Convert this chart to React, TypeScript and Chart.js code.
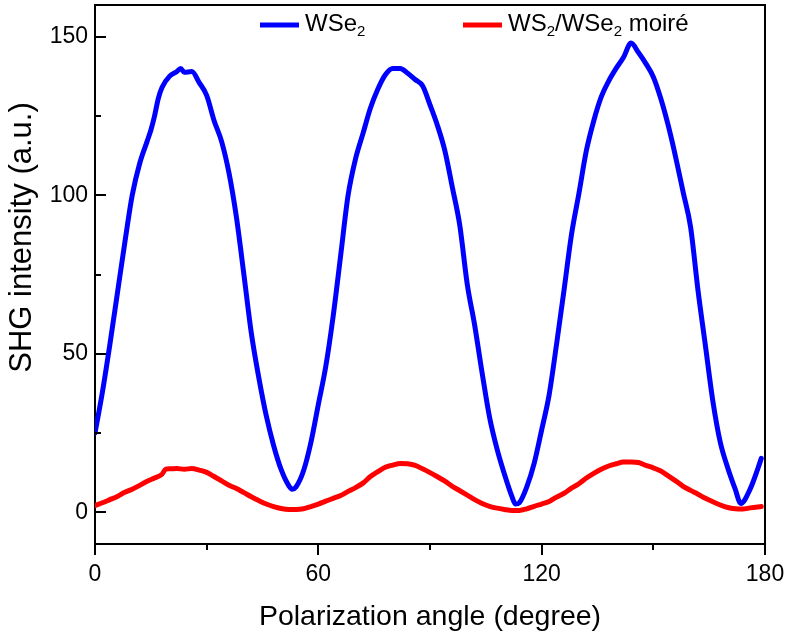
import React, { useEffect, useRef } from "react";
import { Chart, registerables } from "chart.js";

Chart.register(...registerables);

// ---- data ----
const wse2Angles = [
  0, 2, 4, 6, 8, 10, 12, 14, 15, 16, 17, 18, 20, 22, 23, 24, 26, 28, 30, 32, 34, 36, 38, 40,
  42, 44, 46, 48, 50, 52, 53, 54, 56, 58, 60, 62, 64, 66, 68, 70, 72, 74, 76, 78, 80, 82, 84,
  86, 88, 90, 92, 94, 96, 98, 100, 102, 104, 106, 108, 110, 112, 113, 114, 116, 118, 120, 122,
  124, 126, 128, 130, 132, 134, 136, 138, 140, 142, 144, 146, 148, 150, 152, 154, 156, 158, 160,
  162, 164, 166, 168, 170, 172, 173.5, 176, 178, 179,
];
const wse2Values = [
  25, 38, 53, 69, 85, 100, 110, 117, 120.5, 125, 130.5, 134, 137.5, 139, 140, 138.8, 139, 135.5,
  131.5, 123.5, 117, 107, 93, 75, 56.5, 42.5, 30.5, 21, 13.5, 8.5, 7.3, 8, 13, 22, 34, 46, 62, 81,
  100, 111.5, 119.5, 127.5, 133.5, 138, 140, 140, 138.5, 136.5, 134.5, 128.5, 122, 114, 102.5, 90.5,
  72, 59, 44, 30, 20, 12, 5, 2.6, 3, 8, 15.5, 26, 37, 53, 70, 87.5, 100.5, 114, 123.5, 131, 136,
  140, 143.5, 148, 145, 141.5, 137.3, 130.5, 122, 112, 101, 90, 70, 52.5, 35, 22, 14, 7.3, 2.8, 7.3,
  13.5, 17,
];

const moireAngles = [
  0, 2, 4, 6, 8, 10, 12, 14, 16, 18, 19, 20, 22, 24, 26, 28, 30, 32, 34, 36, 38, 40, 42, 44, 46,
  48, 50, 52, 54, 56, 58, 60, 62, 64, 66, 68, 70, 72, 74, 76, 78, 80, 82, 84, 86, 88, 90, 92, 94,
  96, 98, 100, 102, 104, 106, 108, 110, 112, 114, 116, 118, 120, 122, 124, 126, 128, 130, 132, 134,
  136, 138, 140, 142, 144, 146, 148, 150, 152, 154, 156, 158, 160, 162, 164, 166, 168, 170, 172,
  174, 176, 178, 179,
];
const moireValues = [
  2.1, 3, 4, 5, 6.3, 7.3, 8.5, 9.8, 10.8, 12, 13.6, 13.7, 13.8, 13.6, 13.8, 13.3, 12.6, 11.3, 9.9,
  8.5, 7.5, 6.2, 4.9, 3.7, 2.6, 1.8, 1.2, 0.9, 0.9, 1.1, 1.8, 2.6, 3.5, 4.4, 5.3, 6.6, 7.8, 9.2,
  11.3, 12.8, 14.2, 14.9, 15.4, 15.3, 14.8, 13.7, 12.5, 11.2, 9.8, 8.2, 6.8, 5.4, 4, 2.8, 1.9, 1.3,
  0.9, 0.6, 0.6, 1.1, 1.9, 2.6, 3.4, 4.8, 6, 7.6, 9, 10.8, 12.3, 13.6, 14.6, 15.3, 15.9, 15.9, 15.7,
  14.8, 14, 13, 11.5, 9.9, 8.2, 6.9, 5.7, 4.4, 3.3, 2.3, 1.5, 1.1, 1.0, 1.4, 1.7, 1.8,
];

const seriesLabels = ["WSe₂", "WS₂/WSe₂ moiré"];
const seriesColors = ["#0000ff", "#ff0000"];

const xTickValues = [0, 60, 120, 180];
const xMinorTickValues = [30, 90, 150];
const yTickValues = [0, 50, 100, 150];
const yMinorTickValues = [25, 75, 125];

const xTitle = "Polarization angle (degree)";
const yTitle = "SHG intensity (a.u.)";

const FONT = '"Liberation Sans", Arial, sans-serif';

function drawRich(ctx: CanvasRenderingContext2D, text: string, x: number, y: number, size: number) {
  const subMap: Record<string, string> = { "₀": "0", "₁": "1", "₂": "2", "₃": "3" };
  let cx = x;
  for (const ch of Array.from(text)) {
    if (subMap[ch]) {
      ctx.font = `${Math.round(size * 0.64)}px ${FONT}`;
      ctx.fillText(subMap[ch], cx, y + size * 0.22);
      cx += ctx.measureText(subMap[ch]).width;
    } else {
      ctx.font = `${size}px ${FONT}`;
      ctx.fillText(ch, cx, y);
      cx += ctx.measureText(ch).width;
    }
  }
}

const framePlugin = {
  id: "frameTicksLegend",
  afterDraw(chart: any) {
    const { ctx, chartArea: a, scales } = chart;
    const xs = scales.x;
    const ys = scales.y;
    ctx.save();
    ctx.strokeStyle = "#000";
    ctx.lineWidth = 2;
    ctx.beginPath();
    ctx.moveTo(a.left - 1, a.top);
    ctx.lineTo(a.right, a.top);
    ctx.lineTo(a.right, a.bottom + 1);
    ctx.stroke();

    ctx.beginPath();
    for (const v of yTickValues) {
      const py = Math.round(ys.getPixelForValue(v));
      ctx.moveTo(a.left, py);
      ctx.lineTo(a.left + 11, py);
    }
    for (const v of yMinorTickValues) {
      const py = Math.round(ys.getPixelForValue(v));
      ctx.moveTo(a.left, py);
      ctx.lineTo(a.left + 6, py);
    }
    for (const v of xTickValues) {
      const px = Math.round(xs.getPixelForValue(v));
      ctx.moveTo(px, a.bottom);
      ctx.lineTo(px, a.bottom + 11);
    }
    for (const v of xMinorTickValues) {
      const px = Math.round(xs.getPixelForValue(v));
      ctx.moveTo(px, a.bottom);
      ctx.lineTo(px, a.bottom + 6);
    }
    ctx.stroke();

    // y axis title
    ctx.save();
    ctx.fillStyle = "#000";
    ctx.font = `31px ${FONT}`;
    ctx.textAlign = "center";
    ctx.textBaseline = "middle";
    ctx.translate(22, (a.top + a.bottom) / 2 - 37);
    ctx.rotate(-Math.PI / 2);
    ctx.fillText(yTitle, 0, 0);
    ctx.restore();

    // legend
    const items = [
      { lx: a.left + 165, tx: a.left + 210 },
      { lx: a.left + 368, tx: a.left + 413 },
    ];
    const ly = a.top + 20;
    chart.data.datasets.forEach((ds: any, i: number) => {
      const it = items[i];
      ctx.strokeStyle = ds.borderColor;
      ctx.lineWidth = 5;
      ctx.lineCap = "butt";
      ctx.beginPath();
      ctx.moveTo(it.lx, ly);
      ctx.lineTo(it.lx + 39, ly);
      ctx.stroke();
      ctx.fillStyle = "#000";
      ctx.textBaseline = "alphabetic";
      ctx.textAlign = "left";
      drawRich(ctx, ds.label, it.tx, ly + 6, 24);
    });
    ctx.restore();
  },
};

export default function App() {
  const ref = useRef<HTMLCanvasElement | null>(null);

  useEffect(() => {
    document.body.style.margin = "0";
    const canvas = ref.current;
    if (!canvas) return;
    const lineStyle = {
      borderWidth: 5,
      pointRadius: 0,
      cubicInterpolationMode: "monotone",
      borderJoinStyle: "round",
      borderCapStyle: "round",
    };
    const chart = new Chart(canvas, {
      type: "line",
      data: {
        datasets: [
          {
            label: seriesLabels[0],
            data: wse2Angles.map((a, i) => ({ x: a, y: wse2Values[i] })),
            borderColor: seriesColors[0],
            backgroundColor: seriesColors[0],
            ...lineStyle,
          },
          {
            label: seriesLabels[1],
            data: moireAngles.map((a, i) => ({ x: a, y: moireValues[i] })),
            borderColor: seriesColors[1],
            backgroundColor: seriesColors[1],
            ...lineStyle,
          },
        ],
      },
      options: {
        animation: false,
        responsive: false,
        devicePixelRatio: 1,
        layout: { padding: { top: 5, right: 25, left: 0, bottom: 0 } },
        plugins: {
          legend: { display: false },
          tooltip: { enabled: false },
        },
        scales: {
          x: {
            type: "linear",
            min: 0,
            max: 180,
            afterBuildTicks: (s: any) => {
              s.ticks = xTickValues.map((v) => ({ value: v }));
            },
            afterFit: (s: any) => {
              s.height = 92;
              s.paddingLeft = 0;
              s.paddingRight = 0;
            },
            grid: { display: false, drawTicks: false },
            border: { display: true, color: "#000", width: 2 },
            ticks: {
              color: "#000",
              font: { family: FONT, size: 23 },
              padding: 17,
              maxRotation: 0,
              autoSkip: false,
            },
            title: {
              display: true,
              text: xTitle,
              color: "#000",
              font: { family: FONT, size: 28.5 },
              padding: { top: 0, bottom: 2 },
            },
          },
          y: {
            type: "linear",
            min: -10,
            max: 160,
            afterBuildTicks: (s: any) => {
              s.ticks = yTickValues.map((v) => ({ value: v }));
            },
            afterFit: (s: any) => {
              s.width = 95;
              s.paddingTop = 0;
              s.paddingBottom = 0;
            },
            grid: { display: false, drawTicks: false },
            border: { display: true, color: "#000", width: 2 },
            ticks: {
              color: "#000",
              font: { family: FONT, size: 23 },
              padding: 7,
            },
            title: { display: false },
          },
        },
      },
      plugins: [framePlugin],
    } as any);
    return () => chart.destroy();
  }, []);

  return (
    <div style={{ width: 790, height: 636, background: "#fff" }}>
      <canvas ref={ref} width={790} height={636} style={{ display: "block", width: 790, height: 636 }} />
    </div>
  );
}
